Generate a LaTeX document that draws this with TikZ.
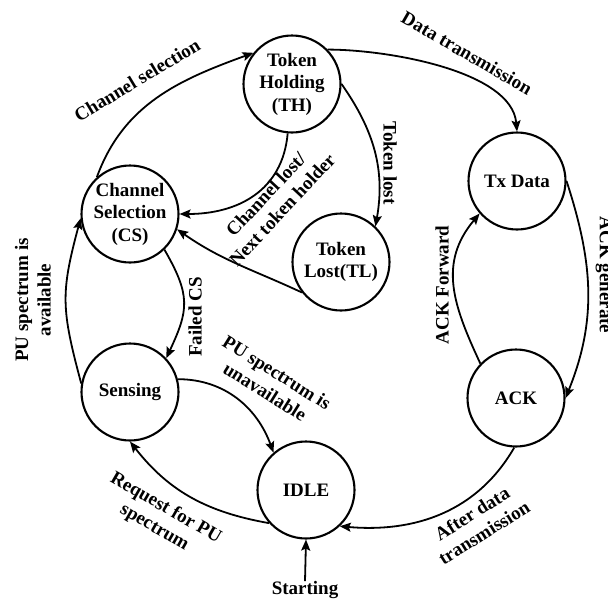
\documentclass[tikz,border=0pt]{standalone}
\usepackage{fontspec}
\setmainfont{Liberation Serif}
\usetikzlibrary{arrows.meta}

\begin{document}
\begin{tikzpicture}[x=1pt,y=1pt,font=\fontsize{19}{22.5}\selectfont\bfseries,
    stnode/.style={circle,draw,line width=2.1pt,minimum size=97pt,inner sep=0pt,align=center},
    lbl/.style={align=center,inner sep=0pt},
    edge/.style={line width=1.8pt,-{Stealth[length=11pt,width=9pt,inset=2pt]}}]
  \useasboundingbox (0,0) rectangle (608,-603);
  % states
  \node[stnode] (th)   at (292,-84)  {Token\\Holding\\(TH)};
  \node[stnode] (cs)   at (130,-214) {Channel\\Selection\\(CS)};
  \node[stnode] (tl)   at (341,-262) {Token\\Lost(TL)};
  \node[stnode] (tx)   at (517,-181) {Tx Data};
  \node[stnode] (ack)  at (516,-398) {ACK};
  \node[stnode] (idle) at (306,-490) {IDLE};
  \node[stnode] (sens) at (130,-392) {Sensing};
  \node[lbl] (start) at (305,-590) {Starting};
  % transitions
  \draw[edge] (cs.132) to[out=70,in=200] (th.141);
  \draw[edge] (th.44) to[out=0,in=95,looseness=0.75] (tx.north);
  \draw[edge] (th.265) to[out=-95,in=0,looseness=1.1] (cs.east);
  \draw[edge] (th.east) to[out=-55,in=80] (tl.46);
  \draw[edge] (tl.218) to[out=155,in=-35] (cs.-18);
  \draw[edge] (cs.-46) to[out=-60,in=65,looseness=1.25] (sens.43);
  \draw[edge] (sens.170) to[out=105,in=-105,looseness=1.2] (cs.185);
  \draw[edge] (sens.15) to[out=0,in=110] (idle.131);
  \draw[edge] (idle.222) to[out=170,in=-52] (sens.south);
  \draw[edge] (ack.268) to[out=240,in=-5] (idle.-47);
  \draw[edge] (tx.east) to[out=-72,in=68] (ack.east);
  \draw[edge] (ack.136) to[out=115,in=230,looseness=1.1] (tx.221);
  \draw[edge] (start.north) -- (idle.south);
  % labels
  \node[lbl,rotate=31]  (lcs) at (137,-80)  {Channel selection};
  \node[lbl,rotate=-30] (ldt) at (467,-53)  {Data transmission};
  \node[lbl,rotate=47]  (lcl) at (274,-202) {Channel lost/\\Next token holder};
  \node[lbl,rotate=-90] (ltl) at (390,-163) {Token lost};
  \node[lbl,rotate=90]  (lfc) at (195,-317) {Failed CS};
  \node[lbl,rotate=90]  (lpa) at (33,-300)  {PU spectrum is\\available};
  \node[lbl,rotate=-32] (lpu) at (271,-382) {PU spectrum is\\unavailable};
  \node[lbl,rotate=-30] (lrq) at (160,-518) {Request for PU\\spectrum};
  \node[lbl,rotate=32]  (lad) at (478,-523) {After data\\transmission};
  \node[lbl,rotate=-90] (lag) at (604,-275) {ACK generate};
  \node[lbl,rotate=90]  (laf) at (442,-285) {ACK Forward};
\end{tikzpicture}
\end{document}
